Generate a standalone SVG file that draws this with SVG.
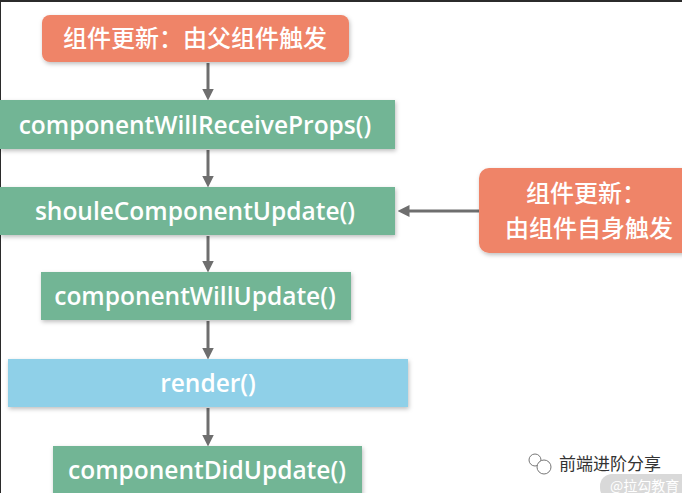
<svg xmlns="http://www.w3.org/2000/svg" width="682" height="493" viewBox="0 0 682 493">
<style>
.o{fill:#ef8468}.g{fill:#72b595}.b{fill:#8fd0e8}
.t{font-family:"Open Sans","Noto Sans","Noto Sans CJK SC",sans-serif;fill:#fff;font-size:24.5px;font-weight:600;text-anchor:middle}
.z{font-family:"Noto Sans CJK SC",sans-serif;font-size:24px;font-weight:500}
.c{stroke:#6e6e6e;stroke-width:3;fill:none;marker-end:url(#a)}
</style>
<defs>
<marker id="a" markerWidth="4" markerHeight="4" refX="2.5" refY="2" orient="auto"><path d="M0,0L4,2L0,4Z" fill="#6e6e6e"/></marker>
<filter id="s" x="-10%" y="-20%" width="120%" height="150%"><feDropShadow dx="1" dy="2" stdDeviation="2" flood-color="#000" flood-opacity="0.25"/></filter>
</defs>
<rect width="682" height="493" fill="#fff"/>
<rect width="682" height="2" fill="#2b2b2b"/>
<rect width="1" height="493" fill="#2b2b2b"/>
<g id="connectors">
<line class="c" x1="208" y1="63" x2="208" y2="96"/>
<line class="c" x1="208" y1="150" x2="208" y2="183"/>
<line class="c" x1="208" y1="236" x2="208" y2="268"/>
<line class="c" x1="208" y1="321" x2="208" y2="355"/>
<line class="c" x1="208" y1="408" x2="208" y2="442"/>
<line class="c" x1="479" y1="211" x2="402" y2="211"/>
</g>
<g id="n1"><rect class="o" x="42" y="15" width="307" height="47" rx="8" filter="url(#s)"/><text class="t z" x="195" y="47">组件更新：由父组件触发</text></g>
<g id="n2"><rect class="g" x="0" y="100" width="395" height="49" filter="url(#s)"/><text class="t" x="195" y="134">componentWillReceiveProps()</text></g>
<g id="n3"><rect class="g" x="0" y="187" width="395" height="48" filter="url(#s)"/><text class="t" x="195" y="220">shouleComponentUpdate()</text></g>
<g id="n4"><rect class="o" x="479" y="168" width="215" height="85" rx="10" filter="url(#s)"/><text class="t z" x="586" y="202">组件更新：</text><text class="t z" x="589" y="237">由组件自身触发</text></g>
<g id="n5"><rect class="g" x="41" y="272" width="310" height="48" filter="url(#s)"/><text class="t" x="195" y="305">componentWillUpdate()</text></g>
<g id="n6"><rect class="b" x="8" y="359" width="400" height="48" filter="url(#s)"/><text class="t" x="208" y="392">render()</text></g>
<g id="n7"><rect class="g" x="53" y="446" width="309" height="50" filter="url(#s)"/><text class="t" x="207" y="479">componentDidUpdate()</text></g>
<g id="watermark">
<text x="559" y="470" font-family="'Noto Sans CJK SC',sans-serif" font-size="17" fill="#333">前端进阶分享</text>
<circle cx="535" cy="460" r="6" fill="none" stroke="#777"/><circle cx="544" cy="467" r="7" fill="#fff" stroke="#777"/>
<rect x="600" y="474" width="100" height="26" rx="12" fill="#d9d9d9"/>
<text x="610" y="491" font-family="'Noto Sans CJK SC',sans-serif" font-size="14" fill="#fff">@拉勾教育</text>
</g>
</svg>
